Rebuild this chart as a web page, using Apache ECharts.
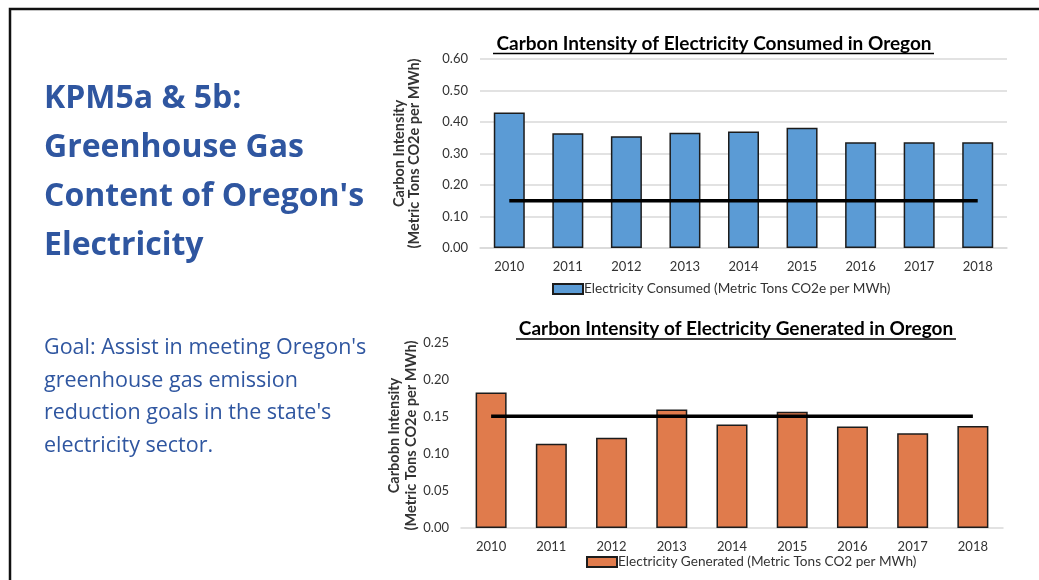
<!DOCTYPE html>
<html>
<head>
<meta charset="utf-8">
<script src="https://cdn.jsdelivr.net/npm/echarts@6/dist/echarts.min.js"></script>
<style>
  html, body { margin: 0; padding: 0; background: #fff; }
  #main { width: 1039px; height: 580px; }
</style>
</head>
<body>
<div id="main"></div>
<script>
const years = ['2010', '2011', '2012', '2013', '2014', '2015', '2016', '2017', '2018'];
// consumed, metric tons CO2e per MWh
const consumed = [0.43, 0.364, 0.355, 0.366, 0.37, 0.382, 0.336, 0.336, 0.336];
// generated, metric tons CO2 per MWh
const generated = [0.183, 0.114, 0.122, 0.16, 0.14, 0.157, 0.137, 0.128, 0.138];
const consumedGoal = years.map(() => 0.15);
const generatedGoal = years.map(() => 0.151);

const FONT = 'Lato';
const SIDE_FONT = 'Open Sans';
const TEXT = '#333';
const BLUE_TXT = '#2f56a0';

const chart = echarts.init(document.getElementById('main'));

const axisLabel = { color: TEXT, fontFamily: FONT, fontSize: 13, margin: 12 };
const yLabel = (v) => v.toFixed(2);
const barItem = (color) => ({ color: color, borderColor: '#1c1c1c', borderWidth: 1.5 });
const yName = { color: TEXT, fontFamily: FONT, fontSize: 14.5, fontWeight: 'bold', lineHeight: 15 };

chart.setOption({
  animation: false,
  grid: [
    { left: 480, right: 32, top: 59, bottom: 332 },
    { left: 461, right: 36, top: 343, bottom: 52 },
  ],
  xAxis: [
    {
      gridIndex: 0, type: 'category', data: years,
      axisTick: { show: false },
      axisLine: { lineStyle: { color: '#d9d9d9', width: 1.5 } },
      axisLabel: axisLabel,
    },
    {
      gridIndex: 1, type: 'category', data: years,
      axisTick: { show: false },
      axisLine: { lineStyle: { color: '#d9d9d9', width: 1.5 } },
      axisLabel: axisLabel,
    },
  ],
  yAxis: [
    {
      gridIndex: 0, type: 'value', min: 0, max: 0.6, interval: 0.1,
      axisLabel: { ...axisLabel, formatter: yLabel },
      splitLine: { lineStyle: { color: '#d9d9d9', width: 1.5 } },
      name: 'Carbon Intensity\n(Metric Tons CO2e per MWh)',
      nameLocation: 'middle', nameGap: 58, nameRotate: 90,
      nameTextStyle: yName,
    },
    {
      gridIndex: 1, type: 'value', min: 0, max: 0.25, interval: 0.05,
      axisLabel: { ...axisLabel, formatter: yLabel },
      splitLine: { show: false },
      name: 'Carbobn Intensity\n(Metric Tons CO2e per MWh)',
      nameLocation: 'middle', nameGap: 41, nameRotate: 90,
      nameMoveOverlap: false,
      nameTextStyle: { ...yName, lineHeight: 17 },
    },
  ],
  legend: [
    {
      data: ['Electricity Consumed (Metric Tons CO2e per MWh)'],
      left: 547, top: 277, icon: 'rect', itemWidth: 30, itemHeight: 10,
      textStyle: { color: TEXT, fontFamily: FONT, fontSize: 13.6, padding: [0, 0, 0, -4] },
    },
    {
      data: ['Electricity Generated (Metric Tons CO2 per MWh)'],
      left: 581, top: 550, icon: 'rect', itemWidth: 30, itemHeight: 10,
      textStyle: { color: TEXT, fontFamily: FONT, fontSize: 13.6, padding: [0, 0, 0, -4] },
    },
  ],
  series: [
    {
      name: 'Electricity Consumed (Metric Tons CO2e per MWh)', type: 'bar',
      xAxisIndex: 0, yAxisIndex: 0, data: consumed, barWidth: 31,
      itemStyle: barItem('#5b9bd5'),
    },
    {
      name: 'Consumed goal', type: 'line', xAxisIndex: 0, yAxisIndex: 0,
      data: consumedGoal, symbol: 'none', z: 5,
      lineStyle: { color: '#000', width: 3.5 },
    },
    {
      name: 'Electricity Generated (Metric Tons CO2 per MWh)', type: 'bar',
      xAxisIndex: 1, yAxisIndex: 1, data: generated, barWidth: 31,
      itemStyle: barItem('#e07b4c'),
    },
    {
      name: 'Generated goal', type: 'line', xAxisIndex: 1, yAxisIndex: 1,
      data: generatedGoal, symbol: 'none', z: 5,
      lineStyle: { color: '#000', width: 3.5 },
    },
  ],
  graphic: [
    // frame
    {
      type: 'rect', shape: { x: 10, y: 9, width: 1100, height: 700 },
      style: { fill: 'none', stroke: '#111', lineWidth: 2.5 },
    },
    // left heading
    {
      type: 'text', left: 44, top: 74,
      style: {
        text: "KPM5a & 5b:\nGreenhouse Gas\nContent of Oregon's\nElectricity",
        fill: BLUE_TXT, font: 'bold 32px "' + SIDE_FONT + '"', lineHeight: 49,
      },
    },
    {
      type: 'text', left: 44, top: 332,
      style: {
        text: "Goal: Assist in meeting Oregon's\ngreenhouse gas emission\nreduction goals in the state's\nelectricity sector.",
        fill: BLUE_TXT, font: '21.5px "' + SIDE_FONT + '"', lineHeight: 32.5,
      },
    },
    // chart titles with underline
    {
      type: 'text', x: 714, y: 44,
      style: {
        text: 'Carbon Intensity of Electricity Consumed in Oregon',
        fill: '#000', font: 'bold 19px ' + FONT, textAlign: 'center', textVerticalAlign: 'middle',
      },
    },
    {
      type: 'line', shape: { x1: 493, y1: 53.5, x2: 934, y2: 53.5 },
      style: { stroke: '#000', lineWidth: 1.4 },
    },
    {
      type: 'text', x: 736, y: 329,
      style: {
        text: 'Carbon Intensity of Electricity Generated in Oregon',
        fill: '#000', font: 'bold 19px ' + FONT, textAlign: 'center', textVerticalAlign: 'middle',
      },
    },
    {
      type: 'line', shape: { x1: 516, y1: 339, x2: 956, y2: 339 },
      style: { stroke: '#000', lineWidth: 1.4 },
    },
  ],
});
</script>
</body>
</html>
